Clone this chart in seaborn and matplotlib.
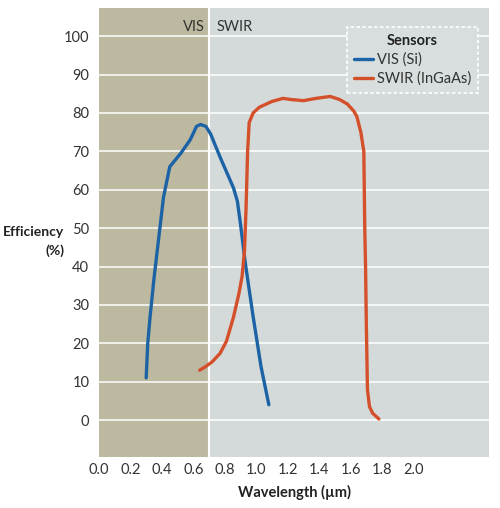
import numpy as np
import pandas as pd
import matplotlib
matplotlib.use('Agg')
import matplotlib.pyplot as plt
import seaborn as sns
from matplotlib.lines import Line2D

# ---- data ----
vis_x = [0.30, 0.31, 0.325, 0.35, 0.37, 0.41, 0.45, 0.52, 0.58, 0.62, 0.645, 0.68, 0.71,
         0.77, 0.855, 0.88, 0.90, 0.93, 0.98, 1.03, 1.08]
vis_y = [11, 20, 27, 37, 44, 58, 66, 69.5, 73, 76.5, 77, 76.5, 74.5,
         68.5, 60.5, 57, 51, 41, 27, 14, 4]

swir_x = [0.64, 0.68, 0.72, 0.77, 0.81, 0.855, 0.89, 0.91, 0.925, 0.935, 0.945, 0.955,
          0.98, 1.02, 1.10, 1.17, 1.22, 1.30, 1.38, 1.47, 1.53, 1.58, 1.62, 1.64,
          1.665, 1.684, 1.69, 1.695, 1.70, 1.707, 1.72, 1.74, 1.78]
swir_y = [13, 14, 15.2, 17.4, 20.5, 26.8, 33, 37.5, 44, 55, 70, 77.5,
          80, 81.5, 83, 83.8, 83.5, 83.2, 83.8, 84.3, 83.5, 82.3, 80.5, 79,
          75, 70, 50, 40, 25, 8, 3.5, 1.8, 0.3]

series_names = ['VIS (Si)', 'SWIR (InGaAs)']
series_colors = ['#1c63a6', '#d4502b']
x_ticks = [0.0, 0.2, 0.4, 0.6, 0.8, 1.0, 1.2, 1.4, 1.6, 1.8, 2.0]
y_ticks = list(range(0, 101, 10))
vis_edge = 0.7

df = pd.concat([
    pd.DataFrame({'wl': vis_x, 'eff': vis_y, 'sensor': series_names[0]}),
    pd.DataFrame({'wl': swir_x, 'eff': swir_y, 'sensor': series_names[1]}),
])

sns.set_style('white')
plt.rcParams['font.family'] = ['Lato', 'DejaVu Sans']

fig = plt.figure(figsize=(5.0, 5.08), dpi=100)
ax = fig.add_axes([0.198, 0.1004, 0.78, 0.8836])

xmax = 2.48
ax.axvspan(0, vis_edge, color='#bdb9a1', zorder=0, lw=0)
ax.axvspan(vis_edge, xmax, color='#d4dada', zorder=0, lw=0)
ax.axvline(vis_edge, color='white', lw=1.5, zorder=1)
for yv in y_ticks:
    ax.axhline(yv, color='white', lw=1.3, alpha=0.85, zorder=1)

sns.lineplot(data=df, x='wl', y='eff', hue='sensor', palette=series_colors,
             sort=False, estimator=None, lw=2.4, ax=ax, legend=False, zorder=3)

ax.set_xlim(0, xmax)
ax.set_ylim(-9.6, 107.3)
ax.set_xticks(x_ticks)
ax.set_xticklabels([f'{v:.1f}' for v in x_ticks])
ax.set_xticks(np.arange(0.1, 2.0, 0.2), minor=True)
ax.set_yticks(y_ticks)
ax.tick_params(axis='x', which='major', direction='in', length=9, width=1.2,
               color='white', labelsize=10.5, labelcolor='#333333', pad=4)
ax.tick_params(axis='x', which='minor', direction='in', length=5, width=1.2,
               color='white')
ax.tick_params(axis='y', length=0, labelsize=10.5, labelcolor='#333333', pad=7)
for s in ax.spines.values():
    s.set_visible(False)

ax.set_xlabel('Wavelength (µm)', fontsize=10.5, fontweight='bold', color='#222222', labelpad=6)
ax.set_ylabel('')
fig.text(0.128, 0.525, 'Efficiency\n(%)', ha='right', va='center', fontsize=10,
         fontweight='bold', color='#222222', multialignment='right', linespacing=1.55)

ax.text(0.67, 102.5, 'VIS', ha='right', va='center', fontsize=10.5, color='#333333')
ax.text(0.75, 102.5, 'SWIR', ha='left', va='center', fontsize=10.5, color='#333333')

handles = [Line2D([0], [0], color=c, lw=2.4) for c in series_colors]
leg = ax.legend(handles, series_names, title='Sensors', loc='upper right',
                bbox_to_anchor=(0.972, 0.958), borderaxespad=0, fontsize=10.5,
                title_fontsize=10.5, frameon=True, fancybox=False, handlelength=1.3,
                handletextpad=0.25, borderpad=0.5, labelspacing=0.3, alignment='center')
leg.get_title().set_fontweight('bold')
leg.get_title().set_color('#222222')
for t in leg.get_texts():
    t.set_color('#333333')
fr = leg.get_frame()
fr.set_facecolor('#d8dede')
fr.set_alpha(1)
fr.set_edgecolor('white')
fr.set_linestyle((0, (2, 1.5)))
fr.set_linewidth(1.2)

fig.savefig('out.png', dpi=100, facecolor='white')
